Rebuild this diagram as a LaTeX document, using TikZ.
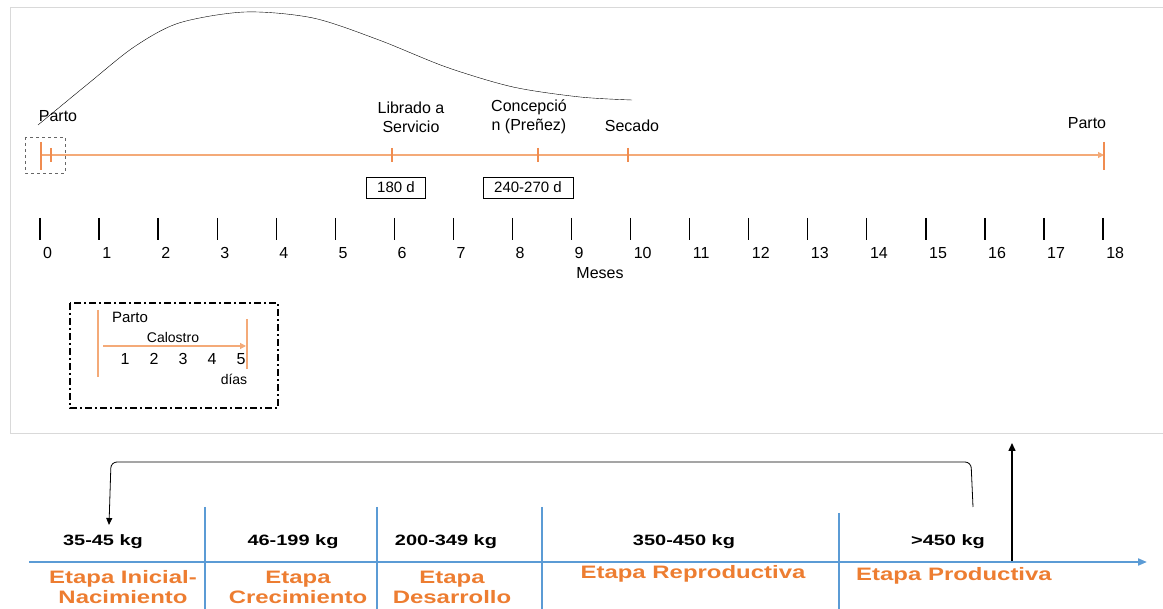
\documentclass[tikz,border=0pt]{standalone}
\usepackage{fontspec}
\setmainfont{Liberation Sans}
\newfontfamily\widefont[FakeStretch=1.33]{Liberation Sans}
\usetikzlibrary{arrows.meta,positioning}
\definecolor{lineorange}{RGB}{244,170,120}
\definecolor{tickorange}{RGB}{240,140,80}
\definecolor{etapaorange}{RGB}{237,125,49}
\definecolor{axisblue}{RGB}{91,155,213}
\definecolor{framegray}{RGB}{217,217,217}

\begin{document}
\begin{tikzpicture}[x=1pt,y=-1pt,
	txt/.style={font=\fontsize{16}{19}\selectfont,inner sep=0pt,align=center},
	mes/.style={font=\fontsize{16}{19}\selectfont,inner sep=0pt,anchor=west},
	small/.style={font=\fontsize{14}{16}\selectfont,inner sep=0pt},
	dbox/.style={draw,font=\fontsize{15}{18}\selectfont,minimum height=21pt,inner sep=0pt},
	peso/.style={font=\widefont\bfseries\fontsize{15}{18}\selectfont,inner sep=0pt},
	etapa/.style={font=\widefont\bfseries\fontsize{18}{20}\selectfont,text=etapaorange,inner sep=0pt,align=center},
	otick/.style={draw=tickorange,line width=1.5pt},
	divider/.style={draw=axisblue,line width=1.2pt}
	]

		\useasboundingbox (0,0) rectangle (1163,609);
		\draw[framegray] (1163,7) -- (10,7) -- (10,433) -- (1163,433);

		\draw[thin] plot[smooth] coordinates {(38,125) (89,83) (134,47) (179,23) (245,12) (313,18) (379,40) (446,67) (513,87) (580,97) (632,100)};

		\coordinate (t0) at (41,155);
		\coordinate (t18) at (1104,155);
		\draw[lineorange,line width=1.2pt,-{Triangle[length=6pt,width=6pt]}] (t0) -- (t18);
		\draw[otick] (41,142) -- (41,170);
		\draw[otick] (51,148) -- (51,162);
		\foreach \x in {392,538,628}
			\draw[otick] (\x,148) -- (\x,162);
		\draw[otick] (1104,142) -- (1104,170);
		\draw[dashed,gray!80!black] (25,137) rectangle (65,173);

		\node[txt] (parto0) at (58,116) {Parto};
		\node[txt] (librado) at (411,117) {Librado a\\Servicio};
		\node[txt] (concep) at (529,117) {Concepció\\n (Preñez)};
		\node[txt] (secado) at (632,126) {Secado};
		\node[txt] (parto18) at (1087,123) {Parto};

		\node[dbox,minimum width=59pt] (d180) at (396,187.5) {180 d};
		\node[dbox,minimum width=90pt] (d240) at (528,187.5) {240-270 d};

		\foreach \i in {0,...,18} {
			\draw[line width=1.3pt] ({40+59.06*\i},218) -- ({40+59.06*\i},240);
			\node[mes] (m\i) at ({43+59.06*\i},253) {\i};
		}
		\node[txt] (meses) at (600,273) {Meses};

		\draw[line width=2pt,dash pattern=on 7pt off 3pt on 2pt off 3pt] (70,303) rectangle (278,408);
		\draw[lineorange,line width=1.8pt] (98,310) -- (98,377);
		\draw[lineorange,line width=1.8pt] (247,319) -- (247,369);
		\node[txt,font=\fontsize{15}{18}\selectfont] (partoC) at (130,317) {Parto};
		\node[small] (calostro) at (173,337) {Calostro};
		\draw[lineorange,line width=1.2pt,-{Triangle[length=6pt,width=6pt]}] (103,346) -- (246,346);
		\foreach \i in {1,...,5}
			\node[txt] (c\i) at ({125+29*(\i-1)},359) {\i};
		\node[small] (dias) at (234,379) {días};

		\coordinate (brR) at (973,507);
		\coordinate (brL) at (109,525);
		\draw[thick,rounded corners=6pt,-{Triangle[length=7pt,width=6pt]}] (brR) -- (971,462) -- (111,462) -- (brL);
		\coordinate (upB) at (1012,562);
		\coordinate (upT) at (1012,443);
		\draw[line width=1.5pt,-{Triangle[length=8pt,width=7pt]}] (upB) -- (upT);

		\coordinate (axL) at (29,562);
		\coordinate (axR) at (1147,562);
		\draw[axisblue,line width=2pt,-{Triangle[length=9pt,width=7pt]}] (axL) -- (axR);
		\foreach \x/\t in {205/507,377/507,542/507,839/513}
			\draw[divider] (\x,\t) -- (\x,609);

		\node[peso] (p1) at (103,542) {35-45 kg};
		\node[peso] (p2) at (293,542) {46-199 kg};
		\node[peso] (p3) at (446,542) {200-349 kg};
		\node[peso] (p4) at (684,542) {350-450 kg};
		\node[peso] (p5) at (948,542) {>450 kg};

		\node[etapa] (e1) at (123,587) {Etapa Inicial-\\Nacimiento};
		\node[etapa] (e2) at (298,587) {Etapa\\Crecimiento};
		\node[etapa] (e3) at (452,587) {Etapa\\Desarrollo};
		\node[etapa] (e4) at (693,574) {Etapa Reproductiva};
		\node[etapa] (e5) at (954,576) {Etapa Productiva};

\end{tikzpicture}
\end{document}
